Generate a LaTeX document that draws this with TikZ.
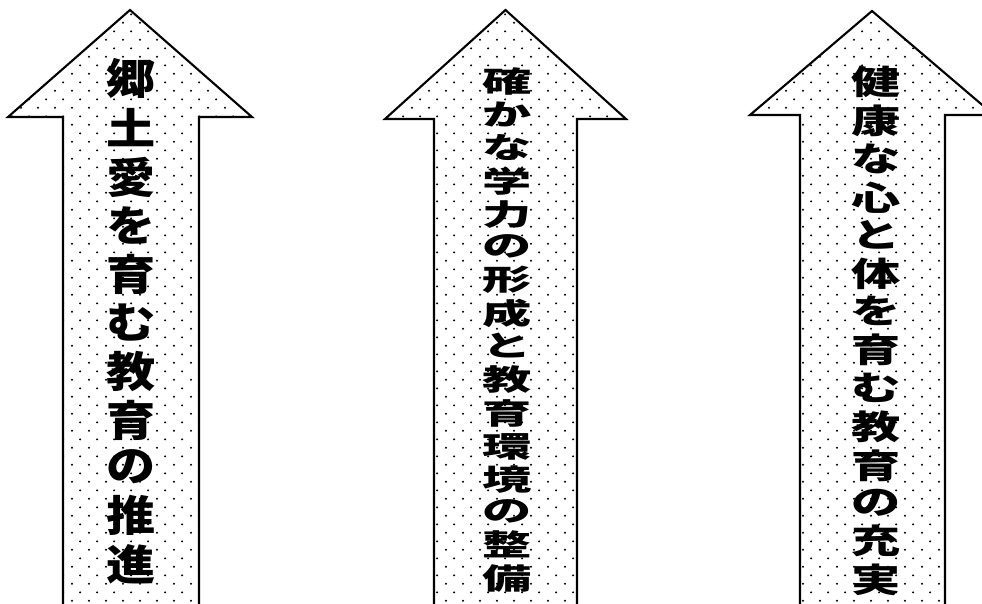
\documentclass[tikz,border=0pt]{standalone}
\usepackage{fontspec}
\usepackage{graphicx}
\usetikzlibrary{patterns.meta}
\newfontfamily\jpgothic{Noto Sans CJK JP}[UprightFont=* Black]

% staggered dot screen for the arrows
\tikzdeclarepattern{
  name=dotgrid,
  type=uncolored,
  bounding box={(0mm,0mm) and (4.25mm,4.35mm)},
  tile size={(4.25mm,4.35mm)},
  code={
    \fill (1.06mm,1.09mm) circle (0.28mm);
    \fill (3.19mm,3.26mm) circle (0.28mm);
  }
}

% one character per row, squeezed vertically by #1
\newcommand\tate[2]{\scalebox{1}[#1]{\begin{tabular}{@{}c@{}}#2\end{tabular}}}

\begin{document}
\begin{tikzpicture}[
        x=0.25mm, y=-0.25mm,
        arrowbody/.style={draw,line width=1.5pt,pattern=dotgrid},
        tatetext/.style={inner sep=0pt,font=\jpgothic\fontsize{35}{36}\selectfont}
    ]
        \clip (0,0) rectangle (982,604);

        \draw [arrowbody] (130,10) -- (252,117) -- (199,117) -- (199,612)
            -- (63,612) -- (63,117) -- (8,117) -- cycle;
        \draw [arrowbody] (505.5,10) -- (626,119) -- (577,119) -- (577,612)
            -- (434,612) -- (434,119) -- (385,119) -- cycle;
        \draw [arrowbody] (872,11) -- (994,115) -- (945,115) -- (945,612)
            -- (800,612) -- (800,115) -- (750,115) -- cycle;

        \node [tatetext] (kyodo) at (131,326)
            {\tate{0.86}{郷\\土\\愛\\を\\育\\む\\教\\育\\の\\推\\進}};
        \node [tatetext] (gakuryoku) at (507,333)
            {\tate{0.59}{確\\か\\な\\学\\力\\の\\形\\成\\と\\教\\育\\環\\境\\の\\整\\備}};
        \node [tatetext] (kenko) at (876,334)
            {\tate{0.68}{健\\康\\な\\心\\と\\体\\を\\育\\む\\教\\育\\の\\充\\実}};
    \end{tikzpicture}
\end{document}
